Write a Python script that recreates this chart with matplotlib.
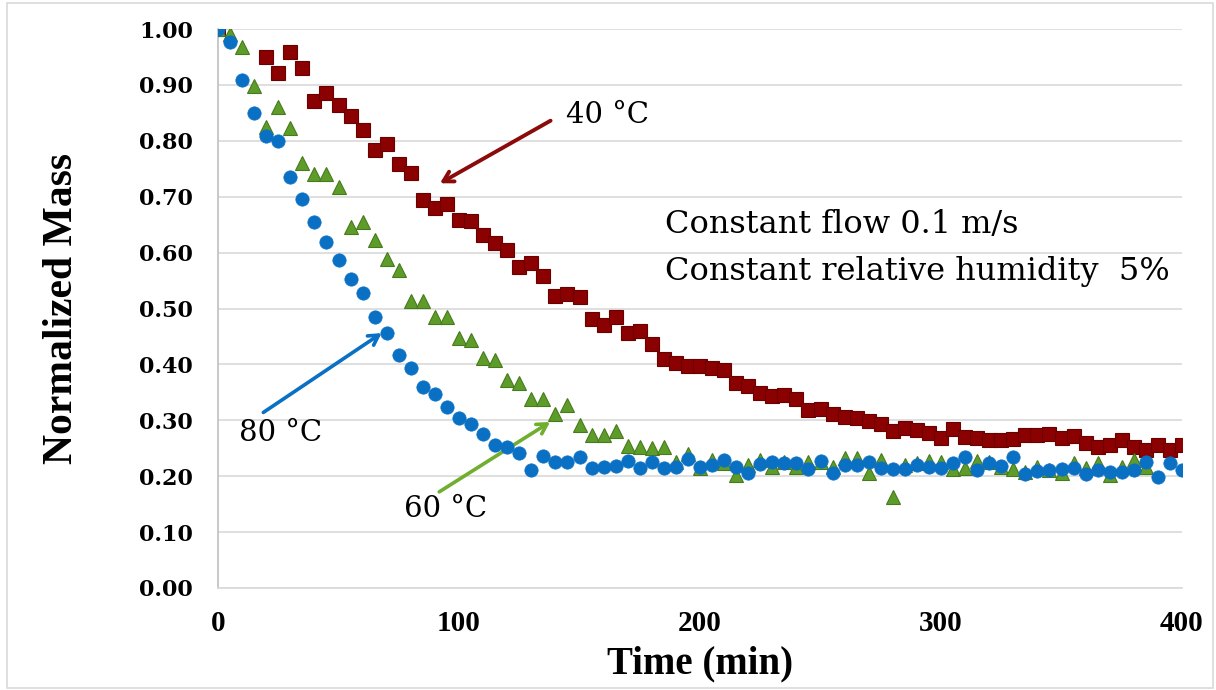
import matplotlib
matplotlib.use("Agg")
import matplotlib.pyplot as plt
from matplotlib.patches import Rectangle
import numpy as np

# ---------------- data ----------------
t40 = [0] + list(range(20, 401, 5))
m40 = [1.000,
       0.950, 0.922, 0.958, 0.930, 0.872, 0.885, 0.864, 0.845, 0.820, 0.783,
       0.795, 0.758, 0.742, 0.694, 0.679, 0.687, 0.658, 0.657, 0.631, 0.617,
       0.605, 0.575, 0.581, 0.558, 0.522, 0.526, 0.520, 0.482, 0.470, 0.485,
       0.456, 0.459, 0.437, 0.410, 0.403, 0.398, 0.398, 0.394, 0.390, 0.366,
       0.361, 0.348, 0.343, 0.345, 0.338, 0.318, 0.321, 0.311, 0.306, 0.305,
       0.298, 0.293, 0.280, 0.287, 0.283, 0.277, 0.268, 0.284, 0.271, 0.268,
       0.265, 0.264, 0.266, 0.274, 0.274, 0.276, 0.268, 0.272, 0.260, 0.253,
       0.256, 0.264, 0.253, 0.246, 0.256, 0.246, 0.255]

t60 = list(range(0, 386, 5))
m60 = [1.000, 0.991, 0.967, 0.898, 0.825, 0.861, 0.823, 0.761, 0.741, 0.741,
       0.718, 0.646, 0.655, 0.623, 0.588, 0.569, 0.513, 0.513, 0.485, 0.485,
       0.447, 0.444, 0.411, 0.408, 0.372, 0.366, 0.338, 0.338, 0.311, 0.327,
       0.292, 0.274, 0.274, 0.281, 0.254, 0.252, 0.250, 0.252, 0.226, 0.240,
       0.214, 0.229, 0.223, 0.202, 0.220, 0.229, 0.217, 0.226, 0.217, 0.226,
       0.226, 0.217, 0.232, 0.232, 0.205, 0.229, 0.163, 0.220, 0.223, 0.228,
       0.226, 0.212, 0.214, 0.227, 0.226, 0.217, 0.212, 0.208, 0.217, 0.211,
       0.205, 0.223, 0.214, 0.224, 0.202, 0.217, 0.229, 0.217]

t80 = list(range(0, 401, 5))
m80 = [1.000, 0.976, 0.909, 0.849, 0.809, 0.800, 0.736, 0.695, 0.655, 0.619,
       0.586, 0.552, 0.528, 0.484, 0.457, 0.416, 0.393, 0.360, 0.347, 0.323,
       0.304, 0.293, 0.275, 0.255, 0.252, 0.241, 0.211, 0.237, 0.225, 0.226,
       0.234, 0.215, 0.217, 0.219, 0.228, 0.214, 0.225, 0.215, 0.217, 0.231,
       0.217, 0.220, 0.229, 0.217, 0.206, 0.222, 0.226, 0.223, 0.224, 0.212,
       0.228, 0.206, 0.220, 0.220, 0.225, 0.214, 0.212, 0.212, 0.220, 0.217,
       0.214, 0.224, 0.235, 0.211, 0.224, 0.218, 0.235, 0.204, 0.209, 0.211,
       0.212, 0.215, 0.204, 0.211, 0.208, 0.208, 0.211, 0.225, 0.199, 0.223,
       0.211]

x_ticks = [0, 100, 200, 300, 400]
y_ticks = [0.0, 0.1, 0.2, 0.3, 0.4, 0.5, 0.6, 0.7, 0.8, 0.9, 1.0]
y_ticklabels = ["0.00", "0.10", "0.20", "0.30", "0.40", "0.50",
                "0.60", "0.70", "0.80", "0.90", "1.00"]

# ---------------- figure ----------------
fig = plt.figure(figsize=(12.16, 6.90), dpi=100)
ax = fig.add_axes([218/1216, 102/690, 964/1216, 559/690])

RED = "#8B0000"
BLUE = "#0A70C4"
GREEN = "#5E9C2A"

ax.plot(t40, m40, ls="none", marker="s", ms=9.4, mfc=RED, mec="#6A0000",
        mew=0.8, zorder=3)
ax.plot(t60, m60, ls="none", marker="^", ms=10.0, mfc=GREEN, mec="#477A1C",
        mew=0.8, zorder=4)
ax.plot(t80, m80, ls="none", marker="o", ms=9.6, mfc=BLUE, mec=BLUE,
        mew=0.5, zorder=5)

ax.set_xlim(0, 400)
ax.set_ylim(0, 1.0)
ax.set_xticks(x_ticks)
ax.set_yticks(y_ticks)
ax.set_yticklabels(y_ticklabels)

ax.grid(axis="y", color="#d9d9d9", lw=1.2, zorder=0)
ax.set_axisbelow(True)
for s in ["top", "right"]:
    ax.spines[s].set_visible(False)
ax.spines["left"].set_color("#bfbfbf")
ax.spines["bottom"].set_color("#d9d9d9")
ax.spines["left"].set_linewidth(1.2)
ax.spines["bottom"].set_linewidth(1.2)
ax.tick_params(length=0)
ax.tick_params(axis="y", pad=18)
ax.tick_params(axis="x", pad=16)
for lab in ax.get_yticklabels():
    lab.set_fontfamily("DejaVu Serif")
    lab.set_fontweight("bold")
    lab.set_fontsize(16)
for lab in ax.get_xticklabels():
    lab.set_fontfamily("Liberation Serif")
    lab.set_fontweight("bold")
    lab.set_fontsize(21)

ax.set_xlabel("Time (min)", fontfamily="Liberation Serif", fontweight="bold",
              fontsize=28)
ax.xaxis.set_label_coords(0.5, -0.102)
ax.set_ylabel("Normalized Mass", fontfamily="Liberation Serif",
              fontweight="bold", fontsize=30)
ax.yaxis.set_label_coords(-0.142, 0.5)

# ---------------- annotations ----------------
afont = dict(fontfamily="DejaVu Serif", fontsize=21, color="black")
ax.annotate("", xy=(92.1, 0.724), xytext=(138.0, 0.836),
            arrowprops=dict(arrowstyle="->,head_length=0.7,head_width=0.4",
                            color="#8B0A0A", lw=2.8, shrinkA=0, shrinkB=0))
ax.text(161.8, 0.846, "40 °C", ha="center", va="center", **afont)

ax.annotate("", xy=(67.9, 0.456), xytext=(18.8, 0.314),
            arrowprops=dict(arrowstyle="->,head_length=0.7,head_width=0.4",
                            color=BLUE, lw=2.6, shrinkA=0, shrinkB=0))
ax.text(26.1, 0.277, "80 °C", ha="center", va="center", **afont)

ax.annotate("", xy=(137.8, 0.297), xytext=(91.8, 0.172),
            arrowprops=dict(arrowstyle="->,head_length=0.7,head_width=0.4",
                            color="#6FAE2E", lw=2.6, shrinkA=0, shrinkB=0))
ax.text(94.6, 0.141, "60 °C", ha="center", va="center", **afont)

ax.text(185.5, 0.651, "Constant flow 0.1 m/s", ha="left", va="center",
        fontfamily="DejaVu Serif", fontsize=23, color="black")
ax.text(185.5, 0.567, "Constant relative humidity  5%", ha="left",
        va="center", fontfamily="DejaVu Serif", fontsize=23, color="black")

# figure border
fig.patches.append(Rectangle((7/1216, 2/690), 1206/1216, 685/690,
                             transform=fig.transFigure, fill=False,
                             edgecolor="#d9d9d9", lw=1.2))

fig.savefig("out.png", dpi=100, facecolor="white")
